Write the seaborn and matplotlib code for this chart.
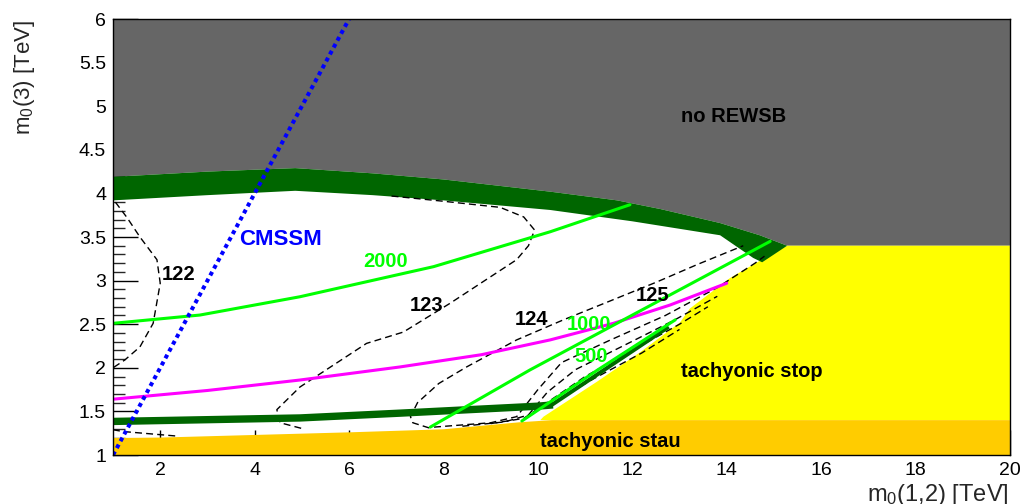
import matplotlib
matplotlib.use("Agg")
import matplotlib.pyplot as plt
import seaborn as sns

# ---- region boundaries (TeV) ----
# upper edge of the dark green band = lower edge of "no REWSB"
rewsb_x = [1.0, 3.0, 4.86, 6.5, 8.0, 10.26, 11.68, 12.6, 13.86, 14.7, 15.28]
rewsb_y = [4.19, 4.25, 4.29, 4.23, 4.16, 4.02, 3.92, 3.82, 3.66, 3.52, 3.40]
# lower edge of the dark green band
band_low_x = [1.0, 3.0, 4.86, 6.5, 8.0, 10.26, 12.0, 13.86, 14.56, 14.75]
band_low_y = [3.92, 3.98, 4.03, 3.98, 3.92, 3.81, 3.68, 3.52, 3.26, 3.21]
# tachyonic stop edge
stop_x = [10.05, 10.12, 11.25, 12.17, 13.01, 13.22, 14.07, 14.71, 15.28]
stop_y = [1.40, 1.44, 1.84, 2.18, 2.52, 2.68, 3.03, 3.23, 3.40]
# tachyonic stau edge
stau_x = [1.0, 2.0, 4.0, 6.0, 8.0, 9.6, 10.3, 20.0]
stau_y = [1.195, 1.20, 1.23, 1.26, 1.295, 1.375, 1.40, 1.40]

# lower dark green band
low_band_x = [1.0, 4.96, 7.08, 10.0, 10.32]
low_band_y = [1.385, 1.425, 1.48, 1.56, 1.575]
low_diag_x = [10.28, 12.77]
low_diag_y = [1.57, 2.47]

# CMSSM line
cmssm_x = [1.0, 6.0]
cmssm_y = [1.0, 6.0]

# green contours
c2000_x = [1.0, 2.84, 4.96, 7.79, 10.26, 11.95]
c2000_y = [2.51, 2.605, 2.815, 3.16, 3.56, 3.87]
c1000_x = [7.72, 9.83, 11.95, 14.92]
c1000_y = [1.32, 1.975, 2.59, 3.45]
c500_x = [9.66, 11.25, 12.91]
c500_y = [1.39, 1.97, 2.55]

# magenta line
mag_x = [1.0, 3.0, 4.96, 7.08, 8.8, 10.26, 11.6, 12.8, 14.0]
mag_y = [1.64, 1.74, 1.86, 2.01, 2.15, 2.32, 2.51, 2.72, 2.97]

# Higgs mass contours (dashed)
h122_x = [1.05, 1.3, 1.57, 1.93, 2.0, 1.85, 1.57, 1.25, 1.0]
h122_y = [3.90, 3.72, 3.50, 3.24, 2.97, 2.51, 2.24, 2.09, 2.0]
h123_x = [6.9, 8.0, 9.2, 9.7, 9.93, 9.8, 9.55, 8.14, 7.15, 6.37, 4.96, 4.47, 4.54, 5.03]
h123_y = [3.97, 3.91, 3.84, 3.73, 3.58, 3.40, 3.24, 2.74, 2.41, 2.28, 1.78, 1.52, 1.37, 1.30]
h123b_x = [1.0, 1.2, 2.4]
h123b_y = [1.29, 1.27, 1.215]
h124_x = [7.7, 7.35, 7.3, 7.45, 7.9, 8.49, 9.55, 10.54, 11.5, 12.5, 13.4, 14.35]
h124_y = [1.31, 1.37, 1.44, 1.60, 1.82, 2.01, 2.32, 2.55, 2.76, 2.98, 3.19, 3.40]
h125_x = [7.8, 9.0, 9.55, 10.0, 10.5, 11.5, 12.7, 13.8, 14.6, 14.8]
h125_y = [1.32, 1.37, 1.44, 1.75, 2.06, 2.31, 2.60, 2.92, 3.20, 3.28]
h126_x = [8.4, 9.3, 9.8, 10.2, 10.8, 11.8, 12.9, 13.8]
h126_y = [1.33, 1.38, 1.46, 1.72, 1.98, 2.25, 2.55, 2.82]
h127_x = [9.0, 9.7, 10.3, 11.0, 12.0, 13.0, 13.6]
h127_y = [1.36, 1.42, 1.64, 1.90, 2.20, 2.50, 2.70]
h128_x = [10.5, 11.2, 12.2, 13.0]
h128_y = [1.66, 1.88, 2.17, 2.44]

xtick_vals = [2, 4, 6, 8, 10, 12, 14, 16, 18, 20]
ytick_vals = [1, 1.5, 2, 2.5, 3, 3.5, 4, 4.5, 5, 5.5, 6]
ytick_labels = ["1", "1.5", "2", "2.5", "3", "3.5", "4", "4.5", "5", "5.5", "6"]

sns.set_theme(style="ticks")
plt.rcParams["font.family"] = ["Liberation Sans", "DejaVu Sans"]
plt.rcParams["mathtext.default"] = "regular"

fig, ax = plt.subplots(figsize=(10.21, 5.04), dpi=100)
fig.subplots_adjust(left=0.1107, right=0.9892, bottom=0.0972, top=0.9623)

# filled regions
ax.fill(rewsb_x + [20, 20, 1], rewsb_y + [3.40, 6, 6], color="#666666", lw=0, zorder=1)
ax.fill(rewsb_x + band_low_x[::-1], rewsb_y + band_low_y[::-1], color="#006600", lw=0, zorder=1.2)
ax.fill(stop_x + [20, 20], stop_y + [3.40, 1.40], color="#ffff00", lw=0, zorder=1)
ax.fill(stau_x + [20, 1], stau_y + [1, 1], color="#ffcc00", lw=0, zorder=1.1)

# dashed Higgs contours
dash = (0, (5, 3))
for hx, hy in [(h122_x, h122_y), (h123_x, h123_y), (h123b_x, h123b_y), (h124_x, h124_y),
               (h125_x, h125_y), (h126_x, h126_y), (h127_x, h127_y), (h128_x, h128_y)]:
    sns.lineplot(x=hx, y=hy, sort=False, estimator=None, color="black", lw=1.0,
                 linestyle=dash, ax=ax, zorder=2)

# lower dark green band
sns.lineplot(x=low_band_x, y=low_band_y, sort=False, estimator=None, color="#006600",
             lw=5.3, ax=ax, zorder=2.2, solid_capstyle="butt")
sns.lineplot(x=low_diag_x, y=low_diag_y, sort=False, estimator=None, color="#006600",
             lw=2.9, ax=ax, zorder=2.2, solid_capstyle="butt")

# coloured lines
sns.lineplot(x=mag_x, y=mag_y, sort=False, estimator=None, color="#ff00ff", lw=2.2, ax=ax, zorder=2.5)
for gx, gy in [(c2000_x, c2000_y), (c1000_x, c1000_y), (c500_x, c500_y)]:
    sns.lineplot(x=gx, y=gy, sort=False, estimator=None, color="#00ff00", lw=2.2, ax=ax, zorder=2.6)

sns.lineplot(x=cmssm_x, y=cmssm_y, sort=False, estimator=None, color="#0000ff", lw=2.9,
             linestyle=(0, (1, 0.95)), ax=ax, zorder=3)

# labels
bold = dict(fontsize=14.5, fontweight="bold", ha="center", va="center", zorder=4)
ax.text(14.15, 4.88, "no REWSB", color="black", **bold)
ax.text(14.54, 1.96, "tachyonic stop", color="black", **bold)
ax.text(11.53, 1.16, "tachyonic stau", color="black", **bold)
ax.text(2.38, 3.07, "122", color="black", **bold)
ax.text(7.64, 2.71, "123", color="black", **bold)
ax.text(9.86, 2.55, "124", color="black", **bold)
ax.text(12.43, 2.83, "125", color="black", **bold)
ax.text(6.77, 3.22, "2000", color="#00ff00", **bold)
ax.text(11.08, 2.50, "1000", color="#00ff00", **bold)
ax.text(11.12, 2.135, "500", color="#00ff00", **bold)
ax.text(4.55, 3.47, "CMSSM", color="#0000ff", fontsize=16, fontweight="bold",
        ha="center", va="center", zorder=4)

ax.set_xlim(1, 20)
ax.set_ylim(1, 6)
ax.set_xticks(xtick_vals)
ax.set_yticks(ytick_vals, labels=ytick_labels)
ax.set_yticks([1 + 0.1 * i for i in range(51)], minor=True)
ax.set_axisbelow(True)
ax.tick_params(axis="both", which="major", direction="in", labelsize=14, colors="black",
               width=1, length=18)
ax.tick_params(axis="y", which="major", pad=5)
ax.tick_params(axis="x", which="major", pad=5)
ax.tick_params(axis="y", which="minor", direction="in", width=1, length=8.6)
for s in ax.spines.values():
    s.set_linewidth(1)
    s.set_color("black")
    s.set_zorder(5)

ax.set_xlabel("m$_0$(1,2) [TeV]", fontsize=17, loc="right")
ax.xaxis.set_label_coords(0.998, -0.062)
ax.set_ylabel("m$_0$(3) [TeV]", fontsize=16, loc="top")
ax.yaxis.set_label_coords(-0.085, 0.997)

fig.savefig("out.png", dpi=100)
